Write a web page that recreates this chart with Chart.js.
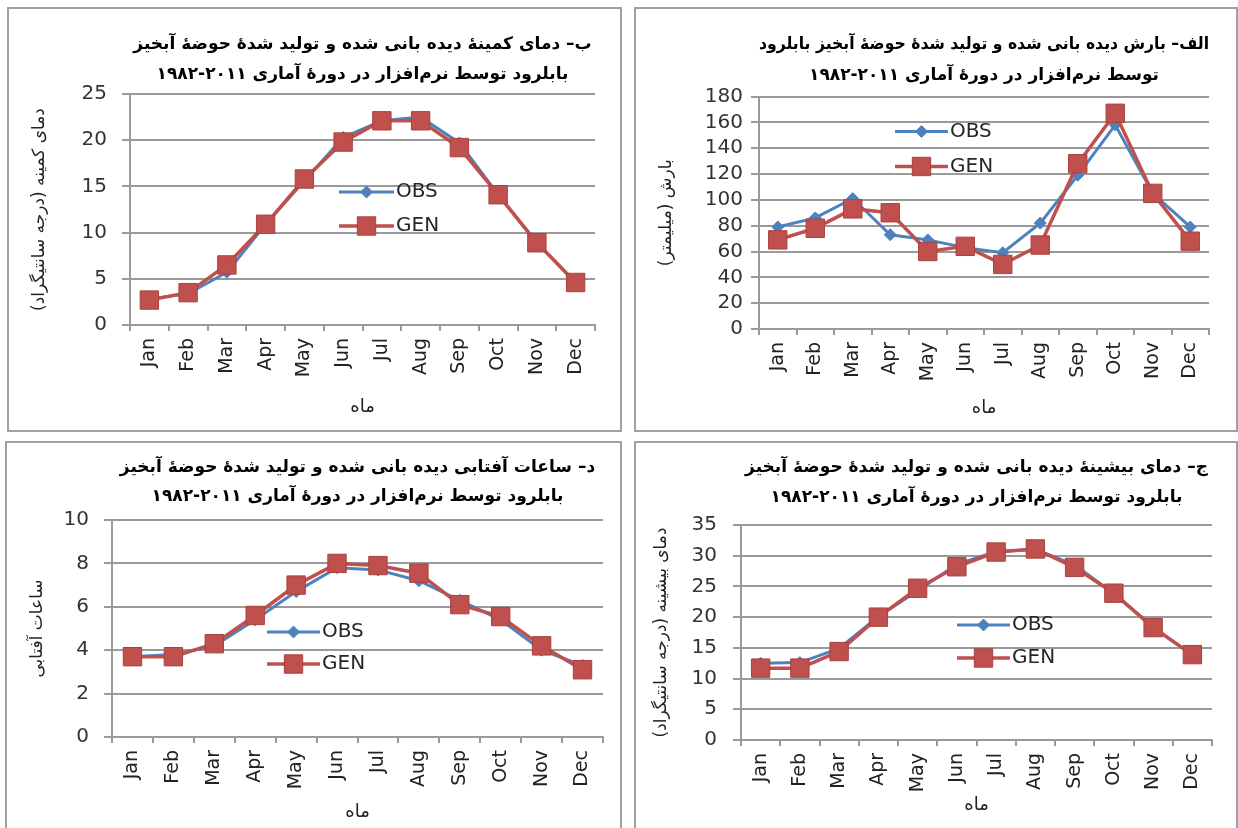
<!DOCTYPE html>
<html>
<head>
<meta charset="utf-8">
<script src="https://cdn.jsdelivr.net/npm/chart.js@4.4.0/dist/chart.umd.min.js"></script>
<style>
  body { margin: 0; background: #fff; width: 1238px; height: 828px; overflow: hidden; position: relative; }
  .panel { position: absolute; border: 2px solid #a0a0a0; }
  canvas { display: block; direction: rtl; }
</style>
</head>
<body>
<div class="panel" style="left:7px;top:7px"><canvas id="c1" width="611" height="421" dir="rtl"></canvas></div>
<div class="panel" style="left:634px;top:7px"><canvas id="c2" width="600" height="421" dir="rtl"></canvas></div>
<div class="panel" style="left:5px;top:441px"><canvas id="c3" width="613" height="390" dir="rtl"></canvas></div>
<div class="panel" style="left:634px;top:441px"><canvas id="c4" width="600" height="390" dir="rtl"></canvas></div>

<script>
// ماه‌ها
const months = ["Jan", "Feb", "Mar", "Apr", "May", "Jun", "Jul", "Aug", "Sep", "Oct", "Nov", "Dec"];

// ب - دمای کمینه
const tminObs = [2.8, 3.4, 5.7, 10.9, 15.6, 20.3, 22.1, 22.5, 19.7, 14.1, 8.9, 4.6];
const tminGen = [2.7, 3.5, 6.5, 10.9, 15.8, 19.8, 22.1, 22.1, 19.2, 14.1, 8.9, 4.6];

// الف - بارش
const precObs = [79, 86, 101, 73, 69, 63, 59, 82, 119, 158, 105, 79];
const precGen = [69, 78, 93, 90, 60, 64, 50, 65, 128, 167, 105, 68];

// د - ساعات آفتابی
const sunObs = [3.7, 3.8, 4.2, 5.4, 6.7, 7.8, 7.7, 7.2, 6.3, 5.4, 4.0, 3.3];
const sunGen = [3.7, 3.7, 4.3, 5.6, 7.0, 8.0, 7.9, 7.55, 6.1, 5.55, 4.2, 3.1];

// ج - دمای بیشینه
const tmaxObs = [12.5, 12.6, 14.9, 20.1, 24.3, 28.6, 30.7, 31.0, 28.5, 23.8, 18.4, 13.8];
const tmaxGen = [11.7, 11.7, 14.4, 20.0, 24.7, 28.2, 30.6, 31.1, 28.1, 23.9, 18.3, 13.9];

const blue = "#4f81bd";
const red = "#c0504d";
const gridColor = "#9a9a9a";
const font = "DejaVu Sans";
const period = "۲۰۱۱-۱۹۸۲"; // در نمایش راست‌به‌چپ به صورت ۱۹۸۲-۲۰۱۱ دیده می‌شود

// لجند داخل نمودار
const innerLegend = {
  id: "innerLegend",
  afterDatasetsDraw(chart, args, opts) {
    const { ctx, chartArea } = chart;
    chart.data.datasets.forEach((ds, i) => {
      const x = chartArea.left + opts.x;
      const y = chartArea.top + opts.y + i * opts.gap;
      ctx.save();
      ctx.strokeStyle = ds.borderColor;
      ctx.lineWidth = ds.borderWidth;
      ctx.beginPath();
      ctx.moveTo(x, y);
      ctx.lineTo(x + opts.len, y);
      ctx.stroke();
      const cx = x + opts.len / 2;
      ctx.fillStyle = ds.pointBackgroundColor;
      ctx.strokeStyle = ds.pointBorderColor;
      ctx.lineWidth = ds.pointBorderWidth;
      ctx.beginPath();
      if (ds.pointStyle === "rect") {
        const s = ds.pointRadius * Math.SQRT1_2;
        ctx.rect(cx - s, y - s, 2 * s, 2 * s);
      } else {
        const r = ds.pointRadius;
        ctx.moveTo(cx - r, y);
        ctx.lineTo(cx, y - r);
        ctx.lineTo(cx + r, y);
        ctx.lineTo(cx, y + r);
        ctx.closePath();
      }
      ctx.fill();
      ctx.stroke();
      ctx.fillStyle = "#262626";
      ctx.font = "20px '" + font + "'";
      ctx.textAlign = "left";
      ctx.textBaseline = "middle";
      ctx.fillText(ds.label, x + opts.len + 2, y);
      ctx.restore();
    });
  },
};

function makeChart(id, obs, gen, yMax, yStep, title, yTitle, lay) {
  new Chart(document.getElementById(id), {
    type: "line",
    data: {
      labels: months,
      datasets: [
        {
          label: "OBS", data: obs, order: 1,
          borderColor: blue, backgroundColor: blue, borderWidth: 3,
          pointStyle: "rectRot", pointRadius: 6,
          pointBackgroundColor: blue, pointBorderColor: blue, pointBorderWidth: 1,
        },
        {
          label: "GEN", data: gen, order: 0,
          borderColor: red, backgroundColor: red, borderWidth: 3.5,
          pointStyle: "rect", pointRadius: 13,
          pointBackgroundColor: red, pointBorderColor: "#a8423f", pointBorderWidth: 1,
        },
      ],
    },
    options: {
      responsive: false,
      animation: false,
      layout: { padding: { left: 10, right: lay.right, top: 0, bottom: 0 } },
      plugins: {
        legend: { display: false },
        tooltip: { enabled: false },
        title: {
          display: true, text: title, fullSize: false, color: "#000",
          font: { family: font, size: 17, weight: "bold", lineHeight: lay.tLine / 17 },
          padding: { top: lay.tTop, bottom: lay.tBottom },
        },
        innerLegend: lay.legend,
      },
      scales: {
        x: {
          offset: true,
          grid: { offset: true, drawOnChartArea: false, tickLength: 6, color: gridColor, lineWidth: 2 },
          border: { color: gridColor, width: 2 },
          ticks: { autoSkip: false, minRotation: 90, maxRotation: 90, padding: 7, color: "#222", font: { family: font, size: 19 } },
          title: { display: true, text: "ماه", color: "#222", font: { family: font, size: 18 }, padding: { top: 0, bottom: lay.xtBottom } },
          afterFit(s) { s.height = lay.xH; },
        },
        y: {
          min: 0, max: yMax,
          ticks: { stepSize: yStep, autoSkip: false, padding: lay.yPad, color: "#333", font: { family: font, size: 20 } },
          grid: { color: gridColor, lineWidth: 2, tickLength: 8 },
          border: { color: gridColor, width: 2 },
          title: { display: true, text: yTitle, color: "#222", font: { family: font, size: 17 }, padding: { top: lay.ytPad, bottom: 0 } },
          afterFit(s) { s.width = lay.yW; },
        },
      },
    },
    plugins: [innerLegend],
  });
}

makeChart("c1", tminObs, tminGen, 25, 5,
  ["ب– دمای کمینهٔ دیده بانی شده و تولید شدهٔ حوضهٔ آبخیز", "بابلرود توسط نرم‌افزار در دورهٔ آماری " + period],
  "دمای کمینه (درجه سانتیگراد)",
  { right: 25, tLine: 30, tTop: 21, tBottom: 4, xH: 105, xtBottom: 12, yW: 111, yPad: 15, ytPad: 10,
    legend: { x: 209, y: 98, gap: 34, len: 55 } });

makeChart("c2", precObs, precGen, 180, 20,
  ["الف– بارش دیده بانی شده و تولید شدهٔ حوضهٔ آبخیز بابلرود", "توسط نرم‌افزار در دورهٔ آماری " + period],
  "بارش (میلیمتر)",
  { right: 27, tLine: 31, tTop: 20.5, tBottom: 5, xH: 101, xtBottom: 11, yW: 113, yPad: 8, ytPad: 10,
    legend: { x: 136, y: 35, gap: 35, len: 53 } });

makeChart("c3", sunObs, sunGen, 10, 2,
  ["د– ساعات آفتابی دیده بانی شده و تولید شدهٔ حوضهٔ آبخیز", "بابلرود توسط نرم‌افزار در دورهٔ آماری " + period],
  "ساعات آفتابی",
  { right: 17, tLine: 29, tTop: 10.5, tBottom: 8.5, xH: 96, xtBottom: 10, yW: 95, yPad: 15, ytPad: 10,
    legend: { x: 155, y: 112, gap: 32, len: 53 } });

makeChart("c4", tmaxObs, tmaxGen, 35, 5,
  ["ج– دمای بیشینهٔ دیده بانی شده و تولید شدهٔ حوضهٔ آبخیز", "بابلرود توسط نرم‌افزار در دورهٔ آماری " + period],
  "دمای بیشینه (درجه سانتیگراد)",
  { right: 24, tLine: 30, tTop: 10, tBottom: 12, xH: 93, xtBottom: 17, yW: 95, yPad: 16, ytPad: 5,
    legend: { x: 216, y: 100, gap: 33, len: 53 } });
</script>
</body>
</html>
